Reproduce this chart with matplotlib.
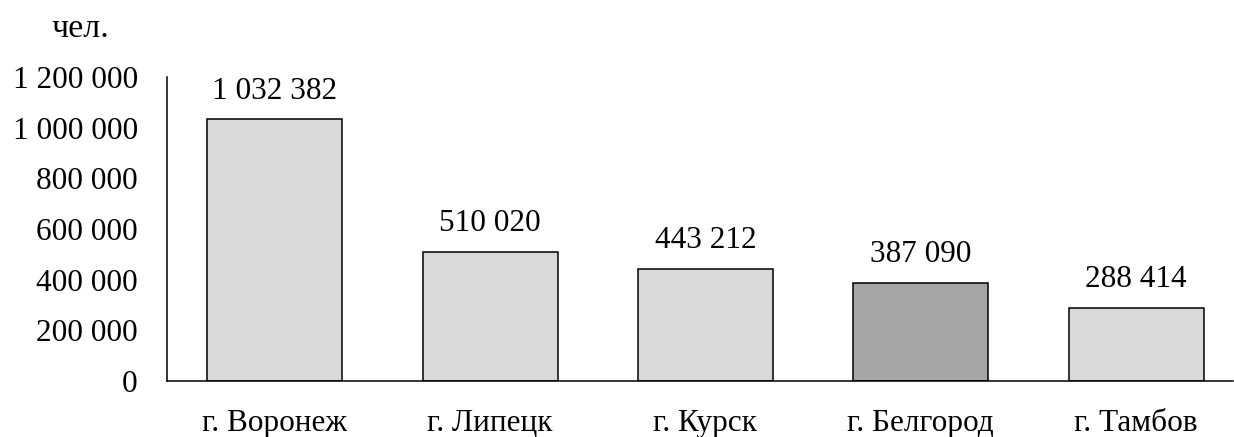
import matplotlib.pyplot as plt
from matplotlib.ticker import FuncFormatter

cities = ['г. Воронеж', 'г. Липецк', 'г. Курск', 'г. Белгород', 'г. Тамбов']
population = [1032382, 510020, 443212, 387090, 288414]
colors = ['#d9d9d9', '#d9d9d9', '#d9d9d9', '#a6a6a6', '#d9d9d9']


def fmt(v, pos=None):
    return '{:,}'.format(int(v)).replace(',', ' ')


plt.rcParams['font.family'] = ['Liberation Serif', 'DejaVu Serif']

fig = plt.figure(figsize=(12.34, 4.37), dpi=100, facecolor='white')
ax = fig.add_axes([0.1353, 0.128, 0.864, 0.696])

x = range(len(cities))
bars = ax.bar(x, population, width=0.627, color=colors, edgecolor='black', linewidth=1.1)

# value labels above bars
for b, v in zip(bars, population):
    ax.annotate(fmt(v), (b.get_x() + b.get_width() / 2, v), xytext=(0, 10),
                textcoords='offset points', ha='center', va='bottom', fontsize=22.5)

ax.set_xlim(-0.5, 4.45)
ax.set_ylim(0, 1200000)
ax.set_yticks(range(0, 1200001, 200000))
ax.yaxis.set_major_formatter(FuncFormatter(fmt))
ax.set_xticks(list(x))
ax.set_xticklabels(cities)
ax.tick_params(axis='y', length=0, pad=21, labelsize=22.5)
ax.tick_params(axis='x', length=0, pad=20, labelsize=22.5)

for s in ['top', 'right']:
    ax.spines[s].set_visible(False)
ax.spines['left'].set_linewidth(1.1)
ax.spines['bottom'].set_linewidth(1.1)

fig.text(0.065, 0.935, 'чел.', fontsize=24.5, ha='center', va='center')

fig.savefig('out.png', dpi=100)
